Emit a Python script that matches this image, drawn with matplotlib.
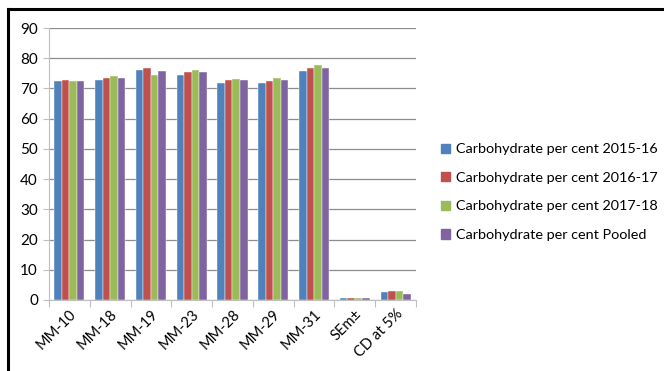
import numpy as np
import matplotlib.pyplot as plt
from matplotlib.lines import Line2D

categories = ['MM-10', 'MM-18', 'MM-19', 'MM-23', 'MM-28', 'MM-29', 'MM-31', 'SEm±', 'CD at 5%']
carb_2015 = [72.3, 72.8, 76.1, 74.5, 71.9, 71.9, 75.9, 0.8, 2.6]
carb_2016 = [72.8, 73.3, 76.7, 75.3, 72.7, 72.3, 76.8, 0.8, 2.9]
carb_2017 = [72.5, 74.0, 74.3, 76.1, 73.1, 73.3, 77.7, 0.8, 2.9]
carb_pooled = [72.5, 73.5, 75.7, 75.4, 72.7, 72.7, 76.8, 0.6, 1.9]

series = [
    ('Carbohydrate per cent 2015-16', carb_2015, '#4f81bd'),
    ('Carbohydrate per cent 2016-17', carb_2016, '#c0504d'),
    ('Carbohydrate per cent 2017-18', carb_2017, '#9bbb59'),
    ('Carbohydrate per cent Pooled', carb_pooled, '#8064a2'),
]

plt.rcParams['font.family'] = ['Lato', 'DejaVu Sans']

fig = plt.figure(figsize=(6.64, 3.71), dpi=100)
ax = fig.add_axes([0.0738, 0.1914, 0.5527, 0.7331])

x = np.arange(len(categories))
w = 0.185
for i, (name, vals, col) in enumerate(series):
    ax.bar(x + (i - 1.5) * w, vals, w, color=col, edgecolor='white', linewidth=0.3,
           label=name, zorder=3)

ax.set_xlim(-0.5, len(categories) - 0.5)
ax.set_ylim(0, 90)
ax.set_yticks(range(0, 91, 10))
ax.yaxis.grid(True, color='#8c8c8c', linewidth=0.9, zorder=0)
for s in ['top', 'right']:
    ax.spines[s].set_visible(False)
ax.spines['left'].set_color('#bfbfbf')
ax.spines['bottom'].set_color('#bfbfbf')
ax.tick_params(axis='y', length=4, color='#bfbfbf', labelsize=11, pad=4)

# category ticks sit between the groups
ax.set_xticks(np.arange(len(categories) + 1) - 0.5)
ax.set_xticklabels([])
ax.tick_params(axis='x', length=5, color='#bfbfbf')
ax.set_xticks(x, minor=True)
ax.set_xticklabels(categories, minor=True, rotation=45, ha='right',
                   rotation_mode='anchor', fontsize=10.5)
ax.tick_params(axis='x', which='minor', length=0, pad=5)

handles = [plt.Rectangle((0, 0), 1, 1, color=c) for _, _, c in series]
fig.legend(handles, [n for n, _, _ in series], loc='center left',
           bbox_to_anchor=(0.645, 0.482), frameon=False, fontsize=10.4,
           handlelength=0.6, handleheight=0.6, handletextpad=0.4, labelspacing=1.15)

# chart frame
fig.add_artist(Line2D([7.5 / 664, 7.5 / 664], [0, 1 - 9 / 371], color='black', lw=2.2,
                      transform=fig.transFigure))
fig.add_artist(Line2D([7.5 / 664, 1], [1 - 9 / 371, 1 - 9 / 371], color='black', lw=2.2,
                      transform=fig.transFigure))

fig.savefig('out.png', dpi=100)
